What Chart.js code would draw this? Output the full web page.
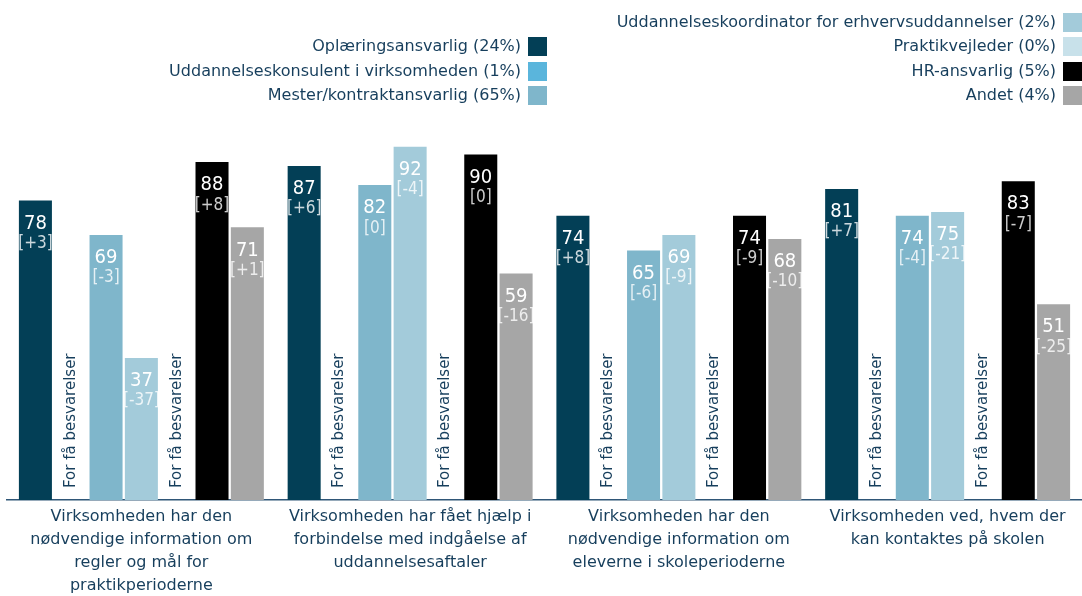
<!DOCTYPE html>
<html>
<head>
<meta charset="utf-8">
<script src="https://cdn.jsdelivr.net/npm/chart.js@4.4.1/dist/chart.umd.min.js"></script>
<style>
  html, body { margin: 0; padding: 0; background: #fff; }
  #wrap { position: relative; width: 1082px; height: 596px; }
</style>
</head>
<body>
<div id="wrap"><canvas id="chart" width="1082" height="596"></canvas></div>
<script>
// Spørgsmål (kategorier)
var categories = [
    ['Virksomheden har den', 'nødvendige information om', 'regler og mål for', 'praktikperioderne'],
    ['Virksomheden har fået hjælp i', 'forbindelse med indgåelse af', 'uddannelsesaftaler'],
    ['Virksomheden har den', 'nødvendige information om', 'eleverne i skoleperioderne'],
    ['Virksomheden ved, hvem der', 'kan kontaktes på skolen']
];

// Respondentgrupper
var seriesNames = ['Oplæringsansvarlig', 'Uddannelseskonsulent i virksomheden', 'Mester/kontraktansvarlig',
    'Uddannelseskoordinator for erhvervsuddannelser', 'Praktikvejleder', 'HR-ansvarlig', 'Andet'];
var seriesShares = ['24%', '1%', '65%', '2%', '0%', '5%', '4%'];
var seriesColors = ['#033f56', '#5ab5dc', '#7fb6cb', '#a3cbda', '#c8e1ea', '#000000', '#a6a6a6'];

// Værdier (null = for få besvarelser)
var oplaering       = [78, 87, 74, 81];
var konsulent       = [null, null, null, null];
var mester          = [69, 82, 65, 74];
var koordinator     = [37, 92, 69, 75];
var praktikvejleder = [null, null, null, null];
var hrAnsvarlig     = [88, 90, 74, 83];
var andet           = [71, 59, 68, 51];

// Ændringer i forhold til sidste måling
var oplaeringDiff   = ['+3', '+6', '+8', '+7'];
var konsulentDiff   = [null, null, null, null];
var mesterDiff      = ['-3', '0', '-6', '-4'];
var koordinatorDiff = ['-37', '-4', '-9', '-21'];
var praktikDiff     = [null, null, null, null];
var hrDiff          = ['+8', '0', '-9', '-7'];
var andetDiff       = ['+1', '-16', '-10', '-25'];

var tooFewText = 'For få besvarelser';

var FONT = "'DejaVu Sans', sans-serif";
var FONT_COND = "'DejaVu Sans Condensed', 'DejaVu Sans', sans-serif";
var TEXT_COLOR = '#163e5c';

var values = [oplaering, konsulent, mester, koordinator, praktikvejleder, hrAnsvarlig, andet];
var diffs = [oplaeringDiff, konsulentDiff, mesterDiff, koordinatorDiff, praktikDiff, hrDiff, andetDiff];

var datasets = values.map(function(v, i) {
    return {
        label: seriesNames[i] + ' (' + seriesShares[i] + ')',
        data: v,
        diffs: diffs[i],
        backgroundColor: seriesColors[i],
        borderWidth: 0,
        categoryPercentage: 0.92,
        barPercentage: 0.935
    };
});

// Tekst i søjlerne + "For få besvarelser"
var barLabels = {
    id: 'barLabels',
    afterDatasetsDraw: function(chart) {
        var ctx = chart.ctx;
        var area = chart.chartArea;
        chart.data.datasets.forEach(function(ds, di) {
            var meta = chart.getDatasetMeta(di);
            meta.data.forEach(function(bar, i) {
                var v = ds.data[i];
                ctx.save();
                if (v === null) {
                    ctx.translate(bar.x, area.bottom - 12);
                    ctx.rotate(-Math.PI / 2);
                    ctx.font = '15px ' + FONT;
                    ctx.fillStyle = TEXT_COLOR;
                    ctx.textAlign = 'left';
                    ctx.textBaseline = 'middle';
                    ctx.fillText(tooFewText, 0, 0);
                } else {
                    ctx.textAlign = 'center';
                    ctx.textBaseline = 'middle';
                    ctx.fillStyle = '#ffffff';
                    ctx.font = '20px ' + FONT_COND;
                    ctx.fillText(String(v), bar.x, bar.y + 23);
                    ctx.fillStyle = 'rgba(255,255,255,0.8)';
                    ctx.font = '17px ' + FONT_COND;
                    ctx.fillText('[' + ds.diffs[i] + ']', bar.x, bar.y + 43);
                }
                ctx.restore();
            });
        });
    }
};

// Legende i to kolonner, tekst højrestillet med farvefelt til højre
var legendBoxes = {
    id: 'legendBoxes',
    afterDraw: function(chart) {
        var ctx = chart.ctx;
        var rows = [46, 71, 95];
        var rightRows = [22, 46, 71, 95];
        ctx.save();
        ctx.font = '16px ' + FONT;
        ctx.textAlign = 'right';
        ctx.textBaseline = 'middle';
        chart.data.datasets.forEach(function(ds, i) {
            var y, boxX;
            if (i < 3) { y = rows[i]; boxX = 528; }
            else { y = rightRows[i - 3]; boxX = 1063; }
            ctx.fillStyle = ds.backgroundColor;
            ctx.fillRect(boxX, y - 9, 19, 19);
            ctx.fillStyle = TEXT_COLOR;
            ctx.fillText(ds.label, boxX - 7, y + 1);
        });
        ctx.restore();
    }
};

var ctx = document.getElementById('chart').getContext('2d');
var chart = new Chart(ctx, {
    type: 'bar',
    data: {
        labels: categories,
        datasets: datasets
    },
    options: {
        responsive: false,
        animation: false,
        layout: { padding: { top: 116, left: 7, right: 0, bottom: 0 } },
        plugins: {
            legend: { display: false },
            tooltip: { enabled: false }
        },
        scales: {
            y: {
                display: false,
                min: 0,
                max: 100
            },
            x: {
                grid: { display: false, drawTicks: false },
                border: { display: true, color: '#2f5677', width: 1.5 },
                afterFit: function(scale) { scale.height = 96; },
                ticks: {
                    color: TEXT_COLOR,
                    padding: 5,
                    maxRotation: 0,
                    autoSkip: false,
                    font: { family: FONT, size: 16, lineHeight: '23px' }
                }
            }
        }
    },
    plugins: [barLabels, legendBoxes]
});
</script>
</body>
</html>
